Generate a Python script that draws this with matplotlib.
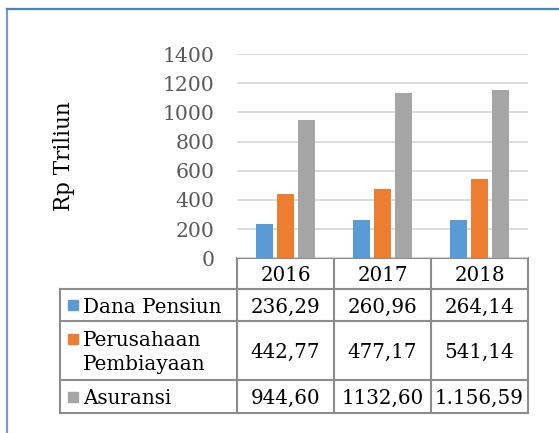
import matplotlib.pyplot as plt
import matplotlib.transforms as mtransforms
from matplotlib.patches import Rectangle
import numpy as np

years = ["2016", "2017", "2018"]
series_labels = ["Dana Pensiun", "Perusahaan\nPembiayaan", "Asuransi"]
dana_pensiun = [236.29, 260.96, 264.14]
perusahaan_pembiayaan = [442.77, 477.17, 541.14]
asuransi = [944.60, 1132.60, 1156.59]
table_text = [
    ["236,29", "260,96", "264,14"],
    ["442,77", "477,17", "541,14"],
    ["944,60", "1132,60", "1.156,59"],
]
colors = ["#5B9BD5", "#ED7D31", "#A5A5A5"]
y_ticks = [0, 200, 400, 600, 800, 1000, 1200, 1400]

W, H = 559, 433
FONT = "DejaVu Serif"
FS = 14.3

fig = plt.figure(figsize=(W / 100, H / 100), dpi=100)

# overlay in pixel units (y downwards) for frame, table and label
ov = fig.add_axes([0, 0, 1, 1])
ov.set_xlim(0, W)
ov.set_ylim(H, 0)
ov.axis("off")

# main bar axes
x_left, x_right, y_top, y_base = 237, 528, 54, 258.3
ax = fig.add_axes([x_left / W, (H - y_base) / H, (x_right - x_left) / W, (y_base - y_top) / H])
ax.set_zorder(2)
ax.patch.set_alpha(0)

x = np.arange(len(years))
width = 0.172
step = 0.218
for i, vals in enumerate([dana_pensiun, perusahaan_pembiayaan, asuransi]):
    ax.bar(x + (i - 1) * step, vals, width, color=colors[i], zorder=3)

ax.set_xlim(-0.5, len(years) - 0.5)
ax.set_ylim(0, 1400)
ax.set_yticks(y_ticks)
ax.set_yticklabels([str(t) for t in y_ticks], fontfamily=FONT, fontsize=FS + 0.4, color="#595959")
ax.set_xticks([])
ax.tick_params(axis="y", length=0, pad=16)
ax.yaxis.grid(True, color="#D9D9D9", linewidth=1.3, zorder=0)
for s in ax.spines.values():
    s.set_visible(False)

# frame (partially cut off in the reference)
ov.plot([7, 7], [9, H], color="#7A9CC6", linewidth=1.6)
ov.plot([7, W], [9, 9], color="#4F81BD", linewidth=1.6)

ov.text(64, 156, "Rp Triliun", rotation=90, ha="center", va="center",
        fontfamily=FONT, fontsize=15.5, color="black")

# data table: x in category units, y in pixels
tr = mtransforms.blended_transform_factory(ax.transData, ov.transData)
line_kw = dict(color="#8C8C8C", linewidth=1.5, solid_capstyle="projecting")
row_edges = [258.3, 289.3, 321, 380, 413]
col_edges = [-0.5, 0.5, 1.5, 2.5]
label_left = 60

# horizontal lines
ov.plot([x_left, x_right], [row_edges[0]] * 2, **line_kw)
for yy in row_edges[1:]:
    ov.plot([label_left, x_right], [yy] * 2, **line_kw)
# vertical lines
for c in col_edges:
    ov.plot([c, c], [row_edges[0], row_edges[-1]], transform=tr, **line_kw)
ov.plot([label_left, label_left], [row_edges[1], row_edges[-1]], **line_kw)

txt_kw = dict(fontfamily=FONT, fontsize=FS, color="black")
header_y = (row_edges[0] + row_edges[1]) / 2
for i, yr in enumerate(years):
    ov.text(i, header_y, yr, ha="center", va="center_baseline", transform=tr, **txt_kw)

for r, label in enumerate(series_labels):
    y_mid = (row_edges[r + 1] + row_edges[r + 2]) / 2
    for i, val in enumerate(table_text[r]):
        ov.text(i, y_mid, val, ha="center", va="center_baseline", transform=tr, **txt_kw)
    lines = label.split("\n")
    if len(lines) == 1:
        first_y = y_mid
        ov.text(83, y_mid, label, ha="left", va="center_baseline", **txt_kw)
    else:
        first_y = y_mid - 12
        ov.text(83, y_mid - 12, lines[0], ha="left", va="center_baseline", **txt_kw)
        ov.text(83, y_mid + 12, lines[1], ha="left", va="center_baseline", **txt_kw)
    ov.add_patch(Rectangle((68, first_y - 5), 10, 10, color=colors[r]))

fig.savefig("out.png", dpi=100)
